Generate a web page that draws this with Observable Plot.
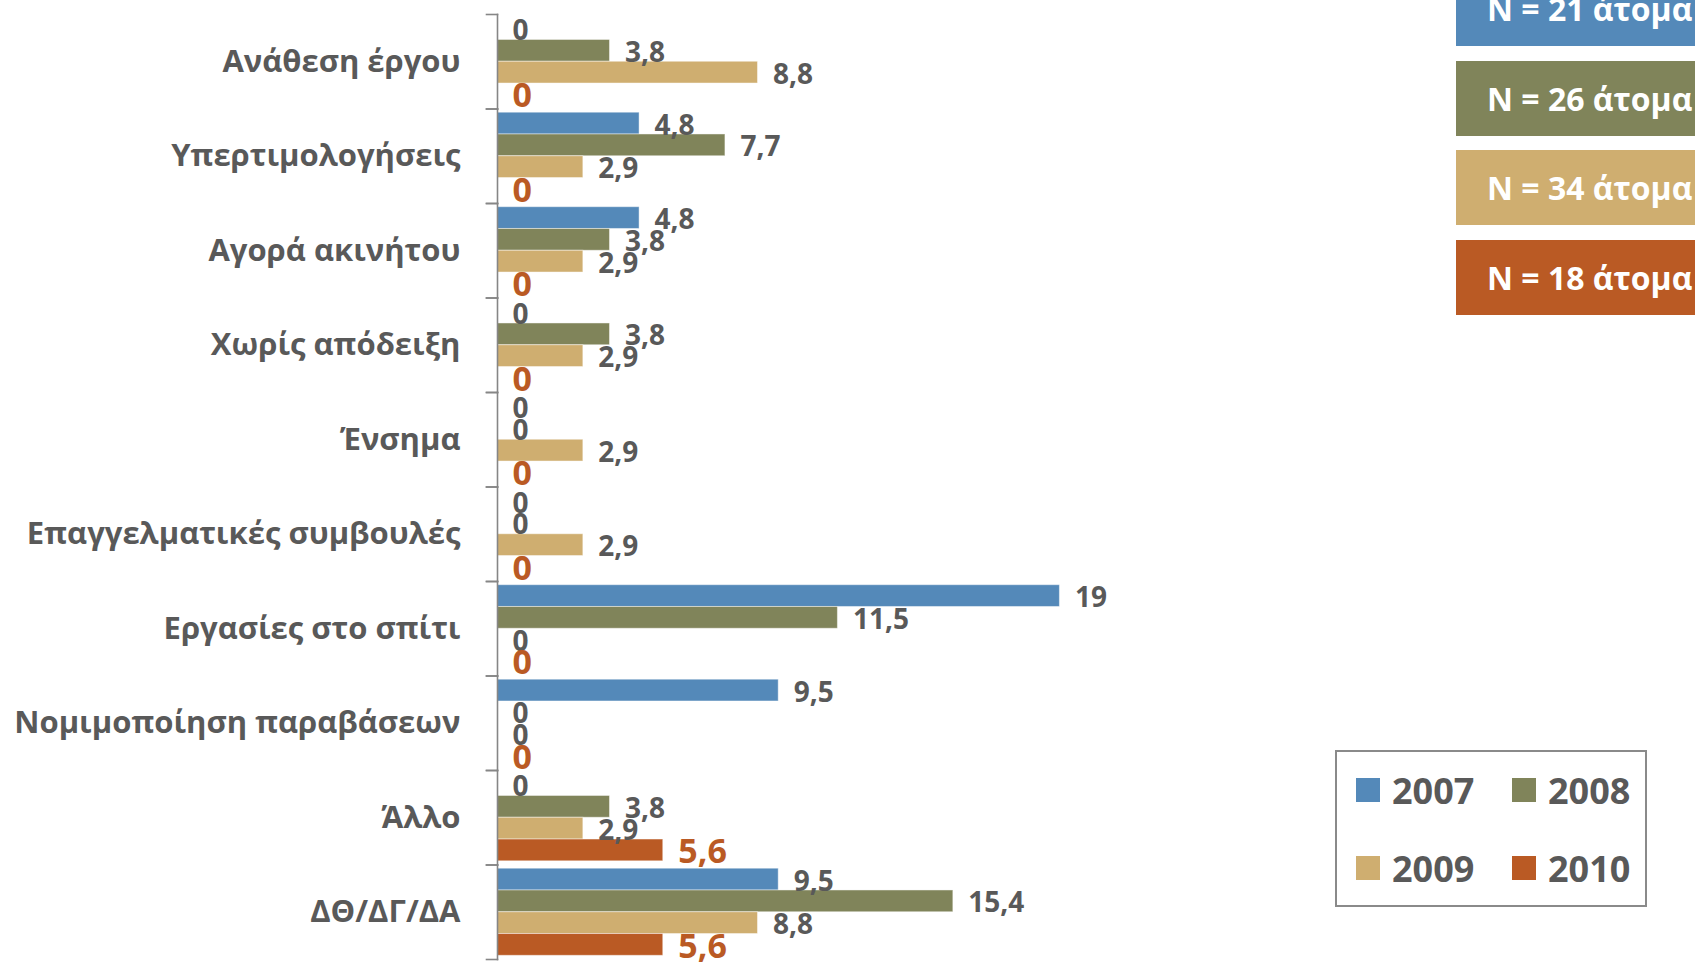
<!DOCTYPE html>
<html>
<head>
<meta charset="utf-8">
<script src="https://cdn.jsdelivr.net/npm/d3@7"></script>
<script src="https://cdn.jsdelivr.net/npm/@observablehq/plot@0.6"></script>
<style>
  html, body { margin: 0; padding: 0; background: #ffffff; }
  #wrap { position: relative; width: 1695px; height: 963px; overflow: hidden; font-family: "Open Sans", sans-serif; }
  #chart svg { display: block; }
  .nbox { position: absolute; left: 1456px; width: 300px; height: 75px; color: #ffffff; font-weight: 700; font-size: 32px; line-height: 75px; padding-left: 31px; box-sizing: border-box; white-space: nowrap; }
  #legend { position: absolute; left: 1335px; top: 750px; width: 312px; height: 157px; border: 2px solid #8a8a8a; box-sizing: border-box; background: #fff; }
  .litem { position: absolute; display: flex; align-items: center; height: 24px; font-size: 36px; font-weight: 700; color: #595959; white-space: nowrap; }
  .lsw { width: 24px; height: 24px; margin-right: 12px; flex: none; }
</style>
</head>
<body>
<div id="wrap">
  <div id="chart"></div>
</div>
<script>
// ---- data ----
const categories = [
  "Ανάθεση έργου",
  "Υπερτιμολογήσεις",
  "Αγορά ακινήτου",
  "Χωρίς απόδειξη",
  "Ένσημα",
  "Επαγγελματικές συμβουλές",
  "Εργασίες στο σπίτι",
  "Νομιμοποίηση παραβάσεων",
  "Άλλο",
  "ΔΘ/ΔΓ/ΔΑ"
];
const years = ["2007", "2008", "2009", "2010"];
const values2007 = [0, 4.8, 4.8, 0, 0, 0, 19, 9.5, 0, 9.5];
const values2008 = [3.8, 7.7, 3.8, 3.8, 0, 0, 11.5, 0, 3.8, 15.4];
const values2009 = [8.8, 2.9, 2.9, 2.9, 2.9, 2.9, 0, 0, 2.9, 8.8];
const values2010 = [0, 0, 0, 0, 0, 0, 0, 0, 5.6, 5.6];
const sampleSizes = [21, 26, 34, 18];
const colors = ["#5489B9", "#80845A", "#CFAE70", "#BA5A24"];

// ---- build table ----
const series = [values2007, values2008, values2009, values2010];
const data = [];
categories.forEach((c, i) => {
  years.forEach((y, j) => data.push({category: c, year: y, value: series[j][i]}));
});
const fmt = v => String(v).replace(".", ",");

const W = 1695, H = 963;
const mL = 497, mR = 14, mT = 14, mB = 4;
const plotW = W - mL - mR;
const axisColor = "#868686";

const chart = Plot.plot({
  width: W,
  height: H,
  marginLeft: mL,
  marginRight: mR,
  marginTop: mT,
  marginBottom: mB,
  style: {fontFamily: "'Open Sans', sans-serif", color: "#595959", background: "transparent"},
  x: {domain: [0, 40], axis: null},
  y: {domain: years, paddingInner: 0, paddingOuter: 0.17, round: false, axis: null},
  fy: {domain: categories, padding: 0, round: false, label: null},
  color: {domain: years, range: colors},
  marks: [
    Plot.barX(data, {fy: "category", y: "year", x: "value", fill: "year", stroke: "#ffffff", strokeOpacity: 0.45, strokeWidth: 1}),
    Plot.frame({anchor: "left", stroke: axisColor, strokeWidth: 1.6}),
    Plot.frame({anchor: "top", stroke: axisColor, strokeWidth: 1.6, insetLeft: -11, insetRight: plotW}),
    Plot.frame({anchor: "bottom", stroke: axisColor, strokeWidth: 1.6, insetLeft: -11, insetRight: plotW}),
    Plot.text(data.filter(d => d.year !== "2010"), {
      fy: "category", y: "year", x: "value", text: d => fmt(d.value),
      textAnchor: "start", dx: 15, dy: 2, fill: "#595959", fontSize: 28, fontWeight: "bold"
    }),
    Plot.text(data.filter(d => d.year === "2010"), {
      fy: "category", y: "year", x: "value", text: d => fmt(d.value),
      textAnchor: "start", dx: 15, dy: 2, fill: "#BA5A24", fontSize: 34, fontWeight: "bold"
    }),
    Plot.axisFy({anchor: "left", tickSize: 0, tickPadding: 37, fontSize: 31, fontWeight: "bold", color: "#595959", label: null})
  ]
});
document.getElementById("chart").appendChild(chart);

// ---- N boxes (top right) ----
const wrap = document.getElementById("wrap");
const boxTops = [-29, 61, 150, 240];
sampleSizes.forEach((n, i) => {
  const d = document.createElement("div");
  d.className = "nbox";
  d.style.top = boxTops[i] + "px";
  d.style.background = colors[i];
  d.textContent = "N = " + n + " άτομα";
  wrap.appendChild(d);
});

// ---- legend ----
const lg = document.createElement("div");
lg.id = "legend";
years.forEach((y, i) => {
  const col = i % 2, row = Math.floor(i / 2);
  const it = document.createElement("div");
  it.className = "litem";
  it.style.left = (19 + col * 156) + "px";
  it.style.top = (26 + row * 78) + "px";
  const sw = document.createElement("span");
  sw.className = "lsw";
  sw.style.background = colors[i];
  const tx = document.createElement("span");
  tx.textContent = y;
  it.appendChild(sw);
  it.appendChild(tx);
  lg.appendChild(it);
});
wrap.appendChild(lg);
</script>
</body>
</html>
